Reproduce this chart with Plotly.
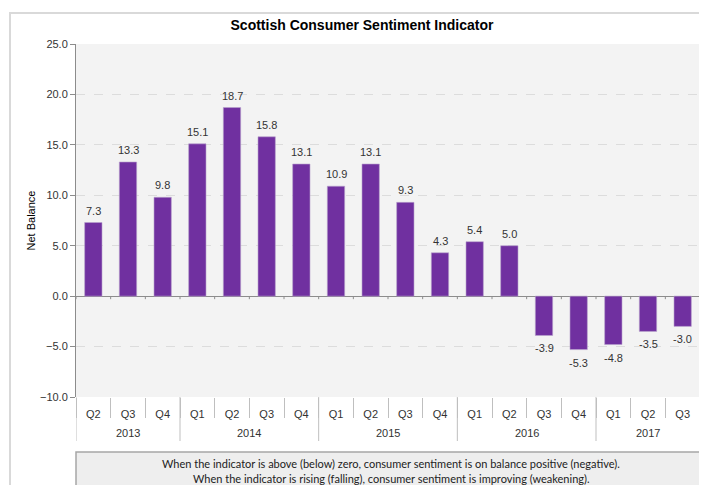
import plotly.graph_objects as go

years = ["2013", "2013", "2013", "2014", "2014", "2014", "2014",
         "2015", "2015", "2015", "2015", "2016", "2016", "2016", "2016",
         "2017", "2017", "2017"]
quarters = ["Q2", "Q3", "Q4", "Q1", "Q2", "Q3", "Q4",
            "Q1", "Q2", "Q3", "Q4", "Q1", "Q2", "Q3", "Q4",
            "Q1", "Q2", "Q3"]
net_balance = [7.3, 13.3, 9.8, 15.1, 18.7, 15.8, 13.1,
               10.9, 13.1, 9.3, 4.3, 5.4, 5.0, -3.9, -5.3,
               -4.8, -3.5, -3.0]
y_ticks = [-10, -5, 0, 5, 10, 15, 20, 25]

title_text = "<b>Scottish Consumer Sentiment Indicator</b>"
footer_lines = [
    "When the indicator is above (below) zero, consumer sentiment is on balance positive (negative).",
    "When the indicator is rising (falling), consumer sentiment is improving (weakening).",
]

# page body has an 8px margin: figure sits at (8, 8) in the window
OFF = 8
W, H = 707 - OFF, 485 - OFF
ML, MT = 76 - OFF, 44 - OFF
PR, PB = 700 - OFF, 397 - OFF
MR, MB = W - PR, H - PB
PW, PH = W - ML - MR, H - MT - MB

def px_x(p):
    return (p - OFF - ML) / PW

def px_y(p):
    return (H - MB - (p - OFF)) / PH

cats = [f"{y} {q}" for y, q in zip(years, quarters)]

fig = go.Figure()
fig.add_trace(go.Bar(
    x=cats,
    y=net_balance,
    width=0.5,
    marker=dict(color="#7030a0", line=dict(width=0.6, color="#b9a3cc")),
    cliponaxis=False,
    hoverinfo="skip",
))

# value labels
for c, v in zip(cats, net_balance):
    fig.add_annotation(x=c, y=v, xref="x", yref="y", text=f"{v:.1f}",
                       showarrow=False, xanchor="center", yanchor="middle",
                       yshift=12 if v >= 0 else -13,
                       font=dict(family="Liberation Sans, Arial", size=11, color="#333333"))

fig.update_layout(
    width=W, height=H,
    margin=dict(l=ML, r=MR, t=MT, b=MB, autoexpand=False),
    paper_bgcolor="white",
    plot_bgcolor="#f3f3f3",
    showlegend=False,
    font=dict(family="Liberation Sans, Arial", size=11, color="#333333"),
    title=dict(text=title_text, x=(362 - OFF) / W, xanchor="center",
               y=1 - (25 - OFF) / H, yanchor="middle",
               xref="container", yref="container",
               font=dict(family="Liberation Sans, Arial", size=14, color="#000000")),
)

fig.update_yaxes(
    range=[-10, 25],
    tickvals=y_ticks,
    tickformat=".1f",
    showgrid=True, gridcolor="#dcdcdc", griddash="dash", gridwidth=1,
    showline=True, linecolor="#8c8c8c", linewidth=1,
    ticks="outside", ticklen=5, tickcolor="#8c8c8c",
    zeroline=True, zerolinecolor="#8c8c8c", zerolinewidth=1,
    tickfont=dict(size=11, color="#333333"),
    title=dict(text="Net Balance", font=dict(size=11, color="#000000"), standoff=2),
    automargin=False,
)

fig.update_xaxes(
    type="category",
    categoryorder="array", categoryarray=cats,
    range=[-0.5, len(cats) - 0.5],
    tickvals=cats, ticktext=quarters,
    showline=False,
    ticks="outside", ticklen=20, tickcolor="#bfbfbf", tickson="boundaries",
    ticklabelstandoff=9,
    tickfont=dict(size=11, color="#333333"),
    showgrid=False,
    automargin=False,
)

# year group labels and dividers
groups = []
for i, y in enumerate(years):
    if not groups or groups[-1][0] != y:
        groups.append([y, i, i])
    else:
        groups[-1][2] = i
for gi, (y, s, e) in enumerate(groups):
    fig.add_annotation(text=y, x=(s + e) / 2, xref="x", y=px_y(433), yref="paper",
                       showarrow=False, xanchor="center", yanchor="middle",
                       font=dict(size=11, color="#333333"))
    for b in ([s - 0.5] if gi == 0 else []) + [e + 0.5]:
        fig.add_shape(type="line", xref="x", yref="paper", x0=b, x1=b,
                      y0=px_y(397), y1=px_y(441), line=dict(color="#bfbfbf", width=1))

# small tick marks on the zero line at category boundaries
for i in range(len(cats) + 1):
    fig.add_shape(type="line", xref="x", yref="y", x0=i - 0.5, x1=i - 0.5,
                  y0=0, y1=-0.3, line=dict(color="#8c8c8c", width=1))

# outer chart border
fig.add_shape(type="rect", xref="paper", yref="paper",
              x0=px_x(10), x1=px_x(720), y0=px_y(495), y1=px_y(13),
              line=dict(color="#d9d9d9", width=2), fillcolor="rgba(0,0,0,0)", layer="below")

# footer box
fig.add_shape(type="rect", xref="paper", yref="paper",
              x0=px_x(76), x1=px_x(720), y0=px_y(495), y1=px_y(452),
              line=dict(color="#a6a6a6", width=1.5), fillcolor="#eeeeee", layer="above")

for i, line in enumerate(footer_lines):
    fig.add_annotation(text=line, xref="paper", yref="paper",
                       x=px_x(391), y=px_y(463 + 15 * i), xanchor="center", yanchor="middle",
                       showarrow=False,
                       font=dict(family="Lato, Open Sans", size=11, color="#222222"))

fig.write_html("out.html")
